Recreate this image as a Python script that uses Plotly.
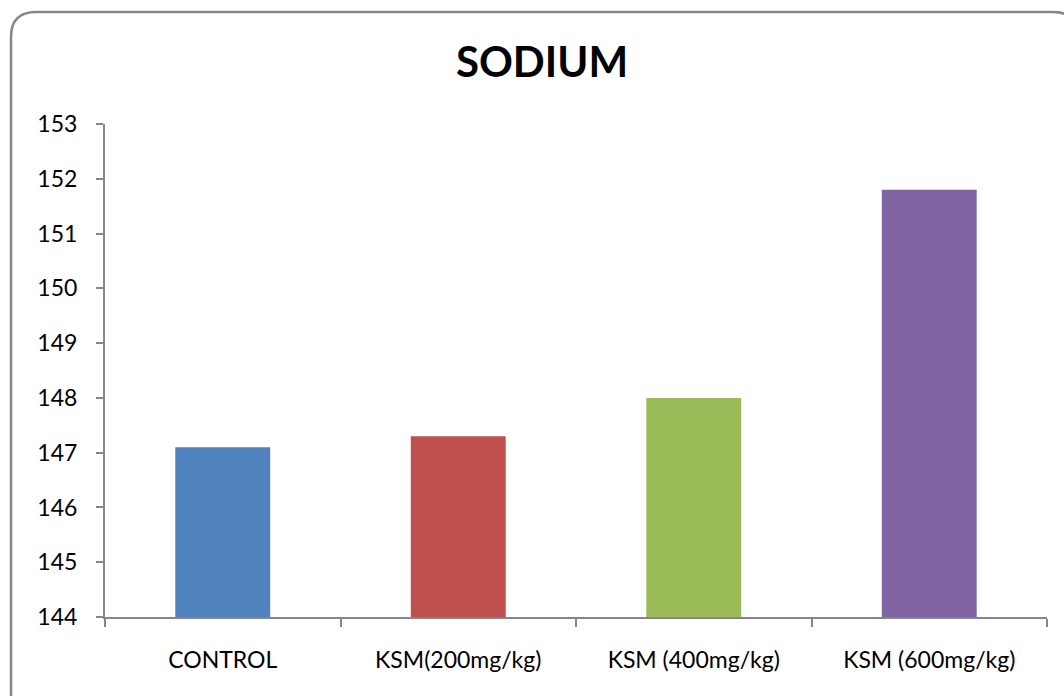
import plotly.graph_objects as go

# Serum sodium by treatment group
categories = ["CONTROL", "KSM(200mg/kg)", "KSM (400mg/kg)", "KSM (600mg/kg)"]
sodium = [147.1, 147.3, 148.0, 151.8]
bar_colors = ["#4F81BD", "#C0504D", "#9BBB59", "#8064A2"]
y_ticks = list(range(144, 154))

W, H = 1064, 696
ML, MR, MT, MB = 105, 17, 124, 79
PW, PH = W - ML - MR, H - MT - MB

AXIS = "#868686"
FONT = "Lato, Calibri, Carlito, sans-serif"


def px(x):
    return (x - ML) / PW


def py(y):
    return (H - MB - y) / PH


fig = go.Figure(
    go.Bar(
        x=categories,
        y=sodium,
        marker=dict(color=bar_colors, line=dict(width=0)),
        width=0.403,
        hoverinfo="x+y",
    )
)

# Rounded chart-area frame
r = 25
left, top, right, bottom = 11, 12, 1078, 710
frame = (
    f"M {px(left)},{py(bottom)} "
    f"L {px(left)},{py(top + r)} "
    f"Q {px(left)},{py(top)} {px(left + r)},{py(top)} "
    f"L {px(right - r)},{py(top)} "
    f"Q {px(right)},{py(top)} {px(right)},{py(top + r)} "
    f"L {px(right)},{py(bottom)}"
)

fig.update_layout(
    width=W,
    height=H,
    margin=dict(l=ML, r=MR, t=MT, b=MB),
    paper_bgcolor="white",
    plot_bgcolor="white",
    showlegend=False,
    font=dict(family=FONT, color="#000000"),
    title=dict(
        text="<b>SODIUM</b>",
        x=px(542),
        xref="paper",
        xanchor="center",
        y=1 - 62 / H,
        yanchor="middle",
        font=dict(family=FONT, size=42, color="#000000"),
    ),
    shapes=[
        dict(
            type="path",
            path=frame,
            xref="paper",
            yref="paper",
            line=dict(color=AXIS, width=2.5),
            layer="above",
        )
    ],
)

fig.update_xaxes(
    type="category",
    showline=True,
    linecolor=AXIS,
    linewidth=2,
    ticks="outside",
    tickson="boundaries",
    ticklen=8,
    tickwidth=2,
    tickcolor=AXIS,
    showgrid=False,
    ticklabelstandoff=21,
    tickfont=dict(family=FONT, size=23, color="#000000"),
    range=[-0.5, 3.5],
)

fig.update_yaxes(
    range=[144, 153],
    tickvals=y_ticks,
    showline=True,
    linecolor=AXIS,
    linewidth=2,
    ticks="outside",
    ticklen=7,
    tickwidth=2,
    tickcolor=AXIS,
    showgrid=False,
    zeroline=False,
    ticklabelstandoff=14,
    tickfont=dict(family=FONT, size=23, color="#000000"),
)

fig.write_html("out.html")
